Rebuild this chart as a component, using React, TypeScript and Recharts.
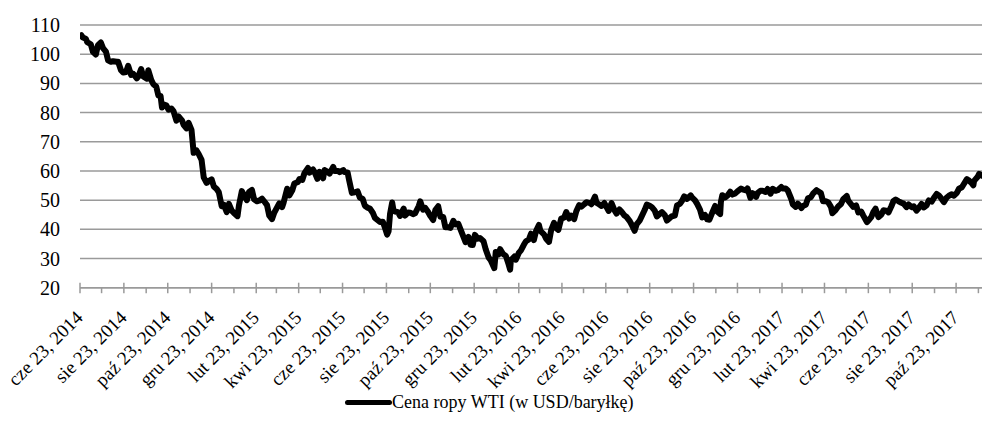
import React from 'react';
import { LineChart, Line, XAxis, YAxis, CartesianGrid } from 'recharts';

const dates: string[] = [
  '2014-06-23','2014-06-25','2014-06-27',
  '2014-07-01','2014-07-03','2014-07-08','2014-07-11','2014-07-15','2014-07-18','2014-07-22','2014-07-25','2014-07-29',
  '2014-08-01','2014-08-05','2014-08-08','2014-08-13','2014-08-15','2014-08-19','2014-08-22','2014-08-26','2014-08-29',
  '2014-09-02','2014-09-05','2014-09-10','2014-09-12','2014-09-16','2014-09-19','2014-09-24','2014-09-26','2014-09-30',
  '2014-10-03','2014-10-07','2014-10-10','2014-10-13','2014-10-15','2014-10-17','2014-10-21','2014-10-24','2014-10-28','2014-10-31',
  '2014-11-04','2014-11-07','2014-11-12','2014-11-14','2014-11-18','2014-11-21','2014-11-25','2014-11-28',
  '2014-12-02','2014-12-05','2014-12-09','2014-12-12','2014-12-16','2014-12-19','2014-12-23','2014-12-26','2014-12-30',
  '2015-01-02','2015-01-06','2015-01-09','2015-01-13','2015-01-16','2015-01-20','2015-01-23','2015-01-28','2015-01-30',
  '2015-02-03','2015-02-06','2015-02-10','2015-02-13','2015-02-17','2015-02-20','2015-02-24','2015-02-27',
  '2015-03-03','2015-03-06','2015-03-10','2015-03-13','2015-03-17','2015-03-20','2015-03-24','2015-03-27','2015-03-31',
  '2015-04-02','2015-04-07','2015-04-10','2015-04-14','2015-04-17','2015-04-22','2015-04-24','2015-04-28',
  '2015-05-01','2015-05-06','2015-05-08','2015-05-13','2015-05-15','2015-05-19','2015-05-22','2015-05-27','2015-05-29',
  '2015-06-03','2015-06-05','2015-06-10','2015-06-12','2015-06-17','2015-06-19','2015-06-24','2015-06-26','2015-06-30',
  '2015-07-02','2015-07-06','2015-07-10','2015-07-14','2015-07-17','2015-07-21','2015-07-24','2015-07-28','2015-07-31',
  '2015-08-04','2015-08-07','2015-08-11','2015-08-14','2015-08-18','2015-08-21','2015-08-24','2015-08-26','2015-08-28','2015-08-31',
  '2015-09-02','2015-09-04','2015-09-08','2015-09-11','2015-09-16','2015-09-18','2015-09-22','2015-09-25','2015-09-29',
  '2015-10-02','2015-10-07','2015-10-09','2015-10-13','2015-10-16','2015-10-20','2015-10-23','2015-10-27','2015-10-30',
  '2015-11-03','2015-11-06','2015-11-10','2015-11-13','2015-11-17','2015-11-20','2015-11-24','2015-11-27',
  '2015-12-01','2015-12-04','2015-12-08','2015-12-11','2015-12-15','2015-12-18','2015-12-21','2015-12-24','2015-12-28','2015-12-31',
  '2016-01-05','2016-01-08','2016-01-12','2016-01-15','2016-01-20','2016-01-22','2016-01-26','2016-01-28',
  '2016-02-01','2016-02-05','2016-02-09','2016-02-11','2016-02-12','2016-02-17','2016-02-19','2016-02-23','2016-02-26',
  '2016-03-01','2016-03-04','2016-03-08','2016-03-11','2016-03-15','2016-03-18','2016-03-22','2016-03-24','2016-03-29',
  '2016-04-01','2016-04-05','2016-04-08','2016-04-12','2016-04-15','2016-04-18','2016-04-22','2016-04-26','2016-04-29',
  '2016-05-03','2016-05-06','2016-05-10','2016-05-13','2016-05-17','2016-05-20','2016-05-24','2016-05-27',
  '2016-06-01','2016-06-03','2016-06-08','2016-06-10','2016-06-14','2016-06-17','2016-06-21','2016-06-24','2016-06-27',
  '2016-07-01','2016-07-05','2016-07-08','2016-07-12','2016-07-15','2016-07-19','2016-07-22','2016-07-26','2016-07-29',
  '2016-08-02','2016-08-05','2016-08-09','2016-08-12','2016-08-16','2016-08-19','2016-08-23','2016-08-26','2016-08-30',
  '2016-09-02','2016-09-07','2016-09-09','2016-09-13','2016-09-16','2016-09-20','2016-09-23','2016-09-27','2016-09-30',
  '2016-10-04','2016-10-07','2016-10-10','2016-10-14','2016-10-19','2016-10-21','2016-10-25','2016-10-28',
  '2016-11-01','2016-11-04','2016-11-08','2016-11-11','2016-11-14','2016-11-18','2016-11-22','2016-11-25','2016-11-29','2016-11-30',
  '2016-12-02','2016-12-06','2016-12-09','2016-12-13','2016-12-16','2016-12-20','2016-12-23','2016-12-28','2016-12-30',
  '2017-01-04','2017-01-06','2017-01-10','2017-01-13','2017-01-18','2017-01-20','2017-01-24','2017-01-27','2017-01-31',
  '2017-02-03','2017-02-07','2017-02-10','2017-02-14','2017-02-17','2017-02-22','2017-02-24','2017-02-28',
  '2017-03-03','2017-03-08','2017-03-10','2017-03-14','2017-03-17','2017-03-22','2017-03-24','2017-03-28','2017-03-31',
  '2017-04-04','2017-04-07','2017-04-12','2017-04-13','2017-04-18','2017-04-21','2017-04-25','2017-04-28',
  '2017-05-02','2017-05-04','2017-05-08','2017-05-12','2017-05-16','2017-05-19','2017-05-24','2017-05-26','2017-05-31',
  '2017-06-02','2017-06-06','2017-06-09','2017-06-13','2017-06-16','2017-06-21','2017-06-23','2017-06-27','2017-06-30',
  '2017-07-03','2017-07-07','2017-07-11','2017-07-14','2017-07-18','2017-07-21','2017-07-25','2017-07-28','2017-07-31',
  '2017-08-04','2017-08-08','2017-08-11','2017-08-15','2017-08-18','2017-08-22','2017-08-25','2017-08-29',
  '2017-09-01','2017-09-05','2017-09-08','2017-09-12','2017-09-15','2017-09-19','2017-09-22','2017-09-26','2017-09-29',
  '2017-10-03','2017-10-06','2017-10-10','2017-10-13','2017-10-17','2017-10-20','2017-10-24','2017-10-27','2017-10-31',
  '2017-11-03','2017-11-07','2017-11-10','2017-11-14','2017-11-16','2017-11-17','2017-11-22','2017-11-24','2017-11-28',
];

const prices: number[] = [
  106.2,106.5,105.7,
  105.3,104.1,103.4,100.8,99.9,103.1,104.0,102.1,100.9,
  97.9,97.4,97.6,97.4,97.4,94.5,93.7,93.9,96.0,
  92.9,93.3,91.7,92.3,94.9,92.4,91.6,94.5,91.2,
  89.7,88.9,85.8,85.7,81.7,82.8,82.5,81.0,81.4,80.5,
  77.2,78.7,77.2,75.8,74.6,76.5,74.1,66.2,
  67.0,65.8,63.8,57.8,55.9,56.5,57.1,54.7,53.8,
  52.7,47.9,48.4,45.9,48.7,46.4,45.6,44.5,48.2,
  53.1,51.7,50.0,52.8,53.5,50.3,49.6,49.8,
  50.5,49.6,48.3,44.8,43.5,45.7,47.5,48.9,47.6,
  49.1,53.9,51.6,53.3,55.7,56.2,57.2,56.9,
  59.2,61.0,59.4,60.5,59.7,57.3,59.7,57.5,60.3,
  59.6,59.1,61.4,60.0,60.0,59.6,60.3,59.6,59.5,
  57.0,52.5,52.7,53.0,50.9,50.4,48.1,47.4,47.1,
  45.7,43.9,43.1,42.5,42.6,40.5,38.2,39.3,45.2,49.2,
  46.3,46.1,45.9,44.6,47.1,44.7,45.8,45.7,45.2,
  45.5,48.0,49.6,46.7,47.3,45.9,44.6,43.2,46.6,
  47.9,44.3,44.2,40.7,40.7,40.5,42.9,41.7,
  41.9,40.0,37.5,35.6,37.4,34.7,34.6,38.1,36.8,37.0,
  35.9,33.2,30.4,29.4,26.7,32.2,31.4,33.2,
  31.6,30.9,27.9,26.2,29.4,30.7,29.6,31.9,32.8,
  34.7,35.9,36.5,38.5,36.3,39.4,41.5,39.5,38.3,
  36.8,35.7,39.7,42.2,40.4,39.8,43.7,44.0,45.9,
  43.7,44.7,43.5,46.2,48.3,47.8,48.6,49.3,
  49.0,48.6,51.2,49.1,48.5,48.0,49.0,47.6,46.3,
  49.0,46.6,45.4,46.8,46.0,44.7,44.2,42.9,41.6,
  39.5,41.8,43.0,44.5,46.6,48.5,48.1,47.6,46.4,
  44.4,45.5,45.9,44.9,43.0,43.9,44.5,44.7,48.2,
  48.7,49.8,51.3,50.4,51.6,50.9,49.9,48.7,
  46.7,44.1,44.9,43.4,43.3,45.7,48.0,46.1,45.2,49.4,
  51.7,50.9,51.5,52.9,51.9,52.3,53.0,54.0,53.7,
  53.3,54.0,50.8,52.4,51.1,52.4,53.2,53.2,52.8,
  53.8,52.2,53.9,53.2,53.4,54.5,54.0,54.0,
  53.3,50.3,48.5,47.7,48.8,47.3,48.0,48.4,50.6,
  51.0,52.2,53.4,53.2,52.4,49.6,49.6,49.3,
  47.7,45.5,46.5,47.8,48.7,50.3,51.4,49.8,48.3,
  47.7,48.2,45.8,46.1,44.7,42.5,43.0,44.2,46.0,
  47.1,44.2,45.0,46.5,46.4,45.8,47.9,49.7,50.2,
  49.6,49.1,48.8,47.6,48.5,47.6,47.9,46.4,
  47.3,48.7,47.5,48.2,49.9,49.5,50.7,52.1,51.6,
  50.4,49.3,50.9,51.5,52.0,51.5,52.5,53.9,54.4,
  55.6,57.2,56.7,55.7,55.1,56.6,58.0,59.0,58.4,
];

const yTicks: number[] = [20, 30, 40, 50, 60, 70, 80, 90, 100, 110];
const monthAbbr: string[] = ['sty','lut','mar','kwi','maj','cze','lip','sie','wrz','paź','lis','gru'];
const axisStart = '2014-06-23';
const axisEnd = '2017-11-28';
const seriesName = 'Cena ropy WTI (w USD/baryłkę)';

const FONT = "'Liberation Serif', 'Times New Roman', Times, serif";
const GRID = '#9a9a9a';

const toDay = (s: string): number => {
  const [y, m, d] = s.split('-').map(Number);
  return Date.UTC(y, m - 1, d) / 86400000;
};

const startDay = toDay(axisStart);
const endDay = toDay(axisEnd);

const data = dates.map((d, i) => ({ t: toDay(d), v: prices[i] }));

// monthly ticks on the 23rd, labels every second month
const tickDays: number[] = [];
const labelMap = new Map<number, string>();
{
  const [sy, sm] = axisStart.split('-').map(Number);
  for (let k = 0; k < 100; k++) {
    const mi = sm - 1 + k;
    const y = sy + Math.floor(mi / 12);
    const m = mi % 12;
    const t = Date.UTC(y, m, 23) / 86400000;
    if (t > endDay) break;
    tickDays.push(t);
    if (k % 2 === 0) labelMap.set(t, `${monthAbbr[m]} 23, ${y}`);
  }
}

const XTick = (props: any) => {
  const { x, y, payload } = props;
  const label = labelMap.get(payload.value);
  const major = label !== undefined;
  const tx = x + 4;
  const ty = y + 31;
  return (
    <g>
      <line x1={x} x2={x} y1={major ? y - 5 : y} y2={y + 5.5} stroke={GRID} strokeWidth={1.5} />
      {major && (
        <text
          x={tx}
          y={ty}
          textAnchor="end"
          fontSize={19}
          fontFamily={FONT}
          fill="#000"
          transform={`rotate(-45 ${tx} ${ty})`}
        >
          {label}
        </text>
      )}
    </g>
  );
};

export default function App() {
  return (
    <div style={{ position: 'absolute', left: 0, top: 0, width: 982, height: 441, background: '#fff' }}>
      <LineChart width={982} height={441} data={data} margin={{ top: 25, right: 0, bottom: 0, left: 0 }}>
        <CartesianGrid vertical={false} stroke={GRID} strokeWidth={1.5} />
        <XAxis
          dataKey="t"
          type="number"
          domain={[startDay, endDay]}
          ticks={tickDays}
          interval={0}
          height={153.3}
          tickSize={0}
          tickMargin={0}
          tickLine={false}
          axisLine={{ stroke: GRID, strokeWidth: 1.5 }}
          tick={<XTick />}
          allowDataOverflow
        />
        <YAxis
          domain={[20, 110]}
          ticks={yTicks}
          interval={0}
          width={80}
          axisLine={false}
          tickLine={false}
          tickSize={0}
          tickMargin={20}
          tick={{ fontSize: 20, fill: '#000', fontFamily: FONT }}
        />
        <Line
          dataKey="v"
          type="linear"
          stroke="#000"
          strokeWidth={6}
          strokeLinejoin="round"
          strokeLinecap="round"
          dot={false}
          isAnimationActive={false}
        />
      </LineChart>
      <div
        style={{
          position: 'absolute',
          left: 345,
          top: 392,
          display: 'flex',
          alignItems: 'center',
          fontFamily: FONT,
          fontSize: 18,
          color: '#000',
          whiteSpace: 'nowrap',
        }}
      >
        <span style={{ display: 'inline-block', width: 47, height: 5, background: '#000', borderRadius: 2.5 }} />
        <span>{seriesName}</span>
      </div>
    </div>
  );
}
